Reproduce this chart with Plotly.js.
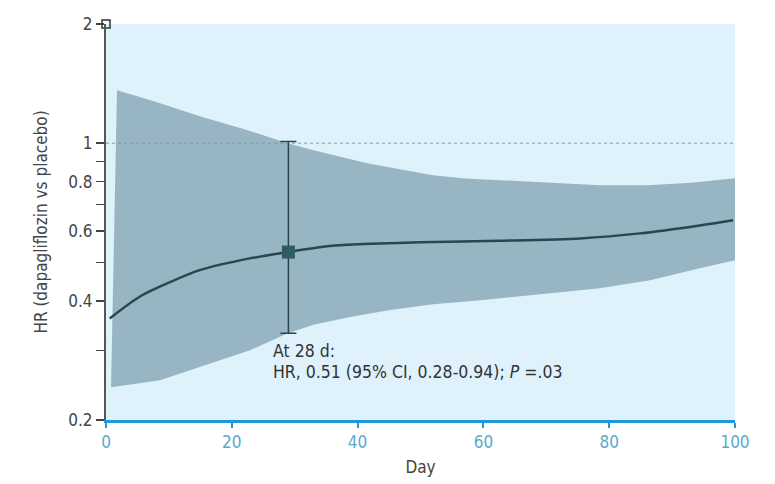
<!DOCTYPE html>
<html><head><meta charset="utf-8">
<script src="https://cdn.plot.ly/plotly-3.0.1.min.js"></script>
<style>html,body{margin:0;padding:0;background:#fff}#chart{width:775px;height:484px}</style>
</head><body><div id="chart"></div>
<script>
// HR curve
const lineDays = [0.6, 5.4, 10.2, 14.9, 21.3, 28.9, 35.6, 42, 50, 62.6, 75.4, 84.9, 94.4, 99.7];
const lineHR   = [0.361, 0.41, 0.446, 0.478, 0.506, 0.531, 0.55, 0.557, 0.562, 0.567, 0.575, 0.592, 0.62, 0.639];
// 95% CI band
const upperDays = [1.75, 8, 14.9, 22, 28.9, 33, 41.5, 47, 52, 57, 62.6, 70, 78.5, 86, 93, 100];
const upperHR   = [1.36, 1.27, 1.17, 1.085, 1.0, 0.96, 0.89, 0.86, 0.83, 0.815, 0.806, 0.793, 0.783, 0.783, 0.795, 0.816];
const lowerDays = [0.8, 8.6, 14.9, 22.9, 28.9, 33, 38.8, 45.2, 52, 59.5, 66, 72, 78.5, 86.5, 94.4, 100];
const lowerHR   = [0.242, 0.252, 0.272, 0.30, 0.331, 0.348, 0.364, 0.379, 0.392, 0.401, 0.41, 0.42, 0.43, 0.451, 0.483, 0.506];
// point estimate at 28 d
const ptDay = [29];
const ptHR = [0.531];
const ptLow = [0.331];
const ptHigh = [1.01];
const yTickVals = [0.2, 0.3, 0.4, 0.5, 0.6, 0.7, 0.8, 0.9, 1, 2];
const yTickText = ['0.2', '', '0.4', '', '0.6', '', '0.8', '', '1', '2'];
const xTickVals = [0, 20, 40, 60, 80, 100];

const FONT = '"DejaVu Sans Condensed", "Liberation Sans Narrow", Arial, sans-serif';

const bandX = upperDays.concat(lowerDays.slice().reverse());
const bandY = upperHR.concat(lowerHR.slice().reverse());

const traces = [
  {x: bandX, y: bandY, type: 'scatter', mode: 'lines', fill: 'toself',
   fillcolor: '#98b5c3', line: {width: 0}, hoverinfo: 'skip'},
  {x: [0, 100], y: [1, 1], type: 'scatter', mode: 'lines',
   line: {color: '#8a9aa2', width: 1, dash: 'dot'}, hoverinfo: 'skip'},
  {x: lineDays, y: lineHR, type: 'scatter', mode: 'lines',
   line: {color: '#28474f', width: 2.5, shape: 'spline', smoothing: 0.8}},
  {x: ptDay, y: ptHR, type: 'scatter', mode: 'markers',
   marker: {symbol: 'square', size: 13, color: '#2f5c63'},
   error_y: {type: 'data', symmetric: false,
     array: [ptHigh[0] - ptHR[0]], arrayminus: [ptHR[0] - ptLow[0]],
     color: '#28444c', thickness: 1.5, width: 8}},
  {x: [0], y: [2], type: 'scatter', mode: 'markers', cliponaxis: false,
   marker: {symbol: 'square-open', size: 8, color: '#333', line: {width: 1.5, color: '#333'}},
   hoverinfo: 'skip'}
];

const layout = {
  width: 775, height: 484,
  margin: {l: 106, r: 40, t: 24, b: 64},
  paper_bgcolor: '#ffffff',
  plot_bgcolor: '#dff1fb',
  showlegend: false,
  font: {family: FONT, size: 17, color: '#444'},
  xaxis: {
    range: [0, 100], tickvals: xTickVals, ticks: 'outside', ticklen: 5, tickwidth: 2,
    tickcolor: '#1e9ad8', showline: true, linecolor: '#1e9ad8', linewidth: 3,
    showgrid: false, zeroline: false,
    tickfont: {family: FONT, size: 17, color: '#5aa8cc'},
    title: {text: 'Day', font: {family: FONT, size: 17, color: '#444'}, standoff: 10}
  },
  yaxis: {
    type: 'log', range: [Math.log10(0.2), Math.log10(2)],
    tickvals: yTickVals, ticktext: yTickText, ticks: 'outside', ticklen: 8, tickwidth: 1.5,
    tickcolor: '#444', showline: true, linecolor: '#555', linewidth: 2,
    showgrid: false, zeroline: false,
    tickfont: {family: FONT, size: 17, color: '#444'},
    title: {text: 'HR (dapagliflozin vs placebo)', font: {family: FONT, size: 17, color: '#444'}, standoff: 16}
  },
  annotations: [
    {xref: 'x', yref: 'paper', x: 26.3, y: 0.175, xanchor: 'left', yanchor: 'middle', showarrow: false,
     text: 'At 28 d:', font: {family: FONT, size: 17.5, color: '#333'}},
    {xref: 'x', yref: 'paper', x: 26.3, y: 0.12, xanchor: 'left', yanchor: 'middle', showarrow: false,
     text: 'HR, 0.51 (95% CI, 0.28-0.94); <i>P</i> =.03', font: {family: FONT, size: 17.5, color: '#333'}}
  ]
};

Plotly.newPlot('chart', traces, layout, {displayModeBar: false, staticPlot: true});
</script></body></html>
